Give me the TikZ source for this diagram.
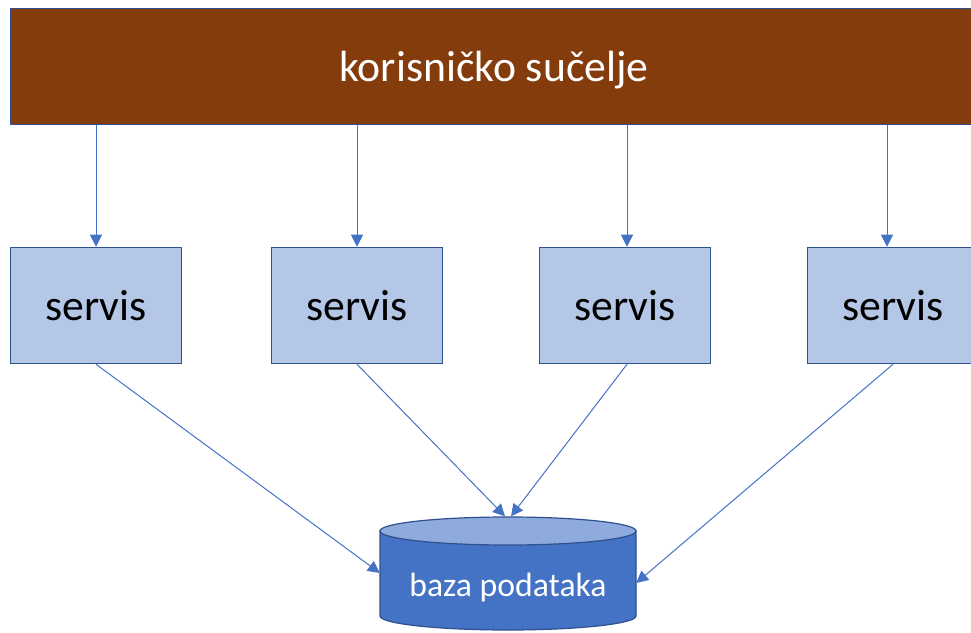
\documentclass[tikz,border=0pt]{standalone}
\usepackage{fontspec}
\setmainfont{Carlito}
\usepackage{xcolor}
\usepackage{tikz}
\usetikzlibrary{arrows.meta}
\definecolor{uibrown}{HTML}{843C0C}
\definecolor{edgeblue}{HTML}{2F528F}
\definecolor{lineblue}{HTML}{4472C4}
\definecolor{boxblue}{HTML}{B4C7E7}
\definecolor{topblue}{HTML}{8FAADC}
\tikzstyle{servisbox} = [draw=edgeblue, line width=1.5pt, fill=boxblue, minimum width=171pt, minimum height=116pt, inner sep=0pt, font=\fontsize{43.7}{52}\selectfont]
\tikzstyle{arrow} = [lineblue, line width=1pt, -{Triangle[length=12pt,width=12pt]}]

\begin{document}
\begin{tikzpicture}[x=1pt, y=1pt]
    \useasboundingbox (0,0) rectangle (971,632);
    \clip (0,0) rectangle (971,632);

    % user interface bar
    \node[draw=edgeblue, line width=1.5pt, fill=uibrown, text=white, minimum width=966pt, minimum height=116pt, inner sep=0pt, text height=40pt, text depth=9pt, font=\fontsize{43.7}{52}\selectfont] (ui) at (494,565.6) {korisničko sučelje};

    % services
    \node[servisbox] (s1) at (96,326.5) {servis};
    \node[servisbox] (s2) at (357,326.5) {servis};
    \node[servisbox] (s3) at (625,326.5) {servis};
    \node[servisbox] (s4) at (893,326.5) {servis};

    % database
    \path[draw=edgeblue, line width=1.2pt, fill=lineblue] (380,101) -- (380,16) arc[start angle=180, end angle=360, x radius=128, y radius=14] -- (636,101) -- cycle;
    \draw[draw=edgeblue, line width=1.2pt, fill=topblue] (508,101) ellipse[x radius=128, y radius=14];
    \node[minimum width=256pt, minimum height=113pt, inner sep=0pt] (db) at (508,59) {};
    \node[text=white, font=\fontsize{33.7}{40}\selectfont] (dblabel) at (508,44) {baza podataka};

    \foreach \n/\dx in {1/0, 2/0, 3/2, 4/-6}
        \draw[arrow] ([xshift=\dx pt]s\n.north |- ui.south) -- ([xshift=\dx pt]s\n.north);

    \draw[arrow] (s1.south) -- (db.west);
    \draw[arrow] (s2.south) -- ([xshift=-3pt]db.north);
    \draw[arrow] ([xshift=2pt]s3.south) -- ([xshift=3pt]db.north);
    \draw[arrow] (s4.south) -- ([yshift=-10pt]db.east);
\end{tikzpicture}
\end{document}
